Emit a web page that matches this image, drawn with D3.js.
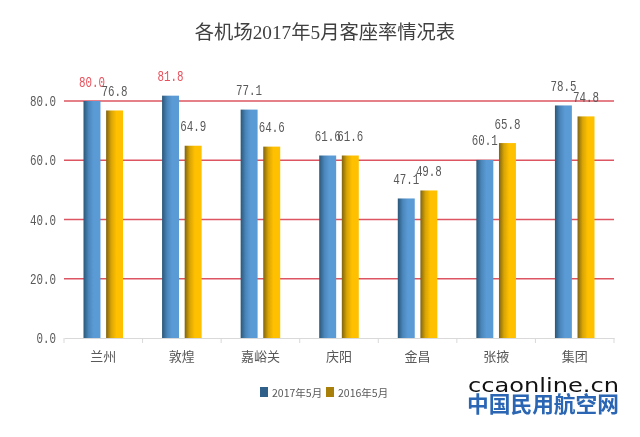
<!DOCTYPE html>
<html>
<head>
<meta charset="utf-8">
<script src="https://d3js.org/d3.v7.min.js"></script>
<style>
  html, body { margin: 0; padding: 0; background: #fff; }
  svg { display: block; filter: blur(0.35px); }
  .num { font-family: "Liberation Mono", monospace; font-size: 14.5px; fill: #595959; }
  .cn { font-family: "Noto Sans CJK SC", sans-serif; fill: #595959; }
</style>
</head>
<body>
<svg id="chart" width="640" height="437"></svg>
<script>
const airports = ["兰州", "敦煌", "嘉峪关", "庆阳", "金昌", "张掖", "集团"];
const values2017 = [80.0, 81.8, 77.1, 61.6, 47.1, 60.1, 78.5];
const values2016 = [76.8, 64.9, 64.6, 61.6, 49.8, 65.8, 74.8];
const seriesNames = ["2017年5月", "2016年5月"];
const yTicks = [0, 20, 40, 60, 80];
const titleText = "各机场2017年5月客座率情况表";

const svg = d3.select("#chart");
const fmt = d3.format(".1f");

const x = d3.scaleBand().domain(airports).range([64, 614]);
const x1 = d3.scaleBand().domain([0, 1]).range([19.5, x.bandwidth() - 19.5]).paddingInner(0.25);
const y = d3.scaleLinear().domain([0, 80]).range([338, 101]);

const defs = svg.append("defs");
const gradients = [
  { id: "barBlue", stops: [["0%", "#2b5778"], ["30%", "#4a86bb"], ["60%", "#5b9bd5"], ["100%", "#5b9bd5"]] },
  { id: "barGold", stops: [["0%", "#7f6410"], ["30%", "#d9a404"], ["60%", "#ffc000"], ["100%", "#ffc000"]] }
];
gradients.forEach(g => {
  const lg = defs.append("linearGradient").attr("id", g.id);
  g.stops.forEach(s => lg.append("stop").attr("offset", s[0]).attr("stop-color", s[1]));
});

// title
svg.append("text").attr("x", 325).attr("y", 39).attr("text-anchor", "middle")
  .style("font-family", '"Liberation Serif", "Noto Sans CJK SC", serif')
  .style("font-size", "19.3px").attr("fill", "#404040").text(titleText);

// red gridlines
svg.append("g").selectAll("line")
  .data(yTicks.filter(d => d > 0))
  .join("line")
  .attr("x1", 64).attr("x2", 614)
  .attr("y1", d => y(d)).attr("y2", d => y(d))
  .attr("stroke", "#dc5560").attr("stroke-width", 1.6);

// y axis labels, squeezed to the narrow digits of the original
const yAxis = svg.append("g").attr("transform", "translate(64,0)")
  .call(d3.axisLeft(y).tickValues(yTicks).tickSize(0).tickPadding(8).tickFormat(fmt));
yAxis.select(".domain").remove();
yAxis.selectAll("text").attr("class", "num").attr("fill", null)
  .attr("textLength", d => fmt(d).length * 6.5).attr("lengthAdjust", "spacingAndGlyphs");

// x axis
const xAxis = svg.append("g").attr("transform", "translate(0,338)")
  .call(d3.axisBottom(x).tickSize(0).tickPadding(14));
xAxis.select(".domain").attr("stroke", "#d9d9d9").attr("stroke-width", 1.2);
xAxis.selectAll("text").attr("class", "cn").attr("fill", null).style("font-size", "13px");
svg.append("g").selectAll("line")
  .data(airports.map(d => x(d)).concat([x.range()[1]]))
  .join("line")
  .attr("x1", d => d).attr("x2", d => d)
  .attr("y1", 338).attr("y2", 343)
  .attr("stroke", "#d9d9d9");

// bars and value labels
[values2017, values2016].forEach((values, i) => {
  const g = svg.append("g");
  const fill = i === 0 ? "url(#barBlue)" : "url(#barGold)";
  g.selectAll("rect")
    .data(values)
    .join("rect")
    .attr("x", (d, j) => x(airports[j]) + x1(i))
    .attr("y", d => y(d))
    .attr("width", x1.bandwidth())
    .attr("height", d => y(0) - y(d))
    .attr("fill", fill);
  g.selectAll("text")
    .data(values)
    .join("text")
    .attr("class", "num")
    .attr("x", (d, j) => x(airports[j]) + x1(i) + x1.bandwidth() / 2)
    .attr("y", d => y(d) - 14.5)
    .attr("text-anchor", "middle")
    .attr("textLength", 26).attr("lengthAdjust", "spacingAndGlyphs")
    .style("fill", d => d >= 80 ? "#e8505b" : null)
    .text(d => fmt(d));
});

// legend
const legendX = d3.scaleOrdinal().domain(seriesNames).range([260, 326]);
const legendColor = d3.scaleOrdinal().domain(seriesNames).range(["#2f6089", "#a87f08"]);
const legend = svg.append("g").selectAll("g")
  .data(seriesNames)
  .join("g")
  .attr("transform", d => `translate(${legendX(d)},387)`);
legend.append("rect").attr("width", 8).attr("height", 10).attr("fill", d => legendColor(d));
legend.append("text").attr("class", "cn").attr("x", 12).attr("y", 9.5)
  .style("font-size", "10.5px").text(d => d);

// watermark
svg.append("text").attr("x", 468).attr("y", 392)
  .attr("textLength", 151).attr("lengthAdjust", "spacingAndGlyphs")
  .style("font-family", '"DejaVu Sans", sans-serif').style("font-size", "20px")
  .attr("fill", "#111").text("ccaonline.cn");
svg.append("text").attr("x", 467).attr("y", 412)
  .attr("textLength", 152).attr("lengthAdjust", "spacingAndGlyphs")
  .style("font-family", '"Noto Sans CJK SC", sans-serif').style("font-size", "21.7px").style("font-weight", 700)
  .attr("fill", "#2a66b3").text("中国民用航空网");
</script>
</body>
</html>
